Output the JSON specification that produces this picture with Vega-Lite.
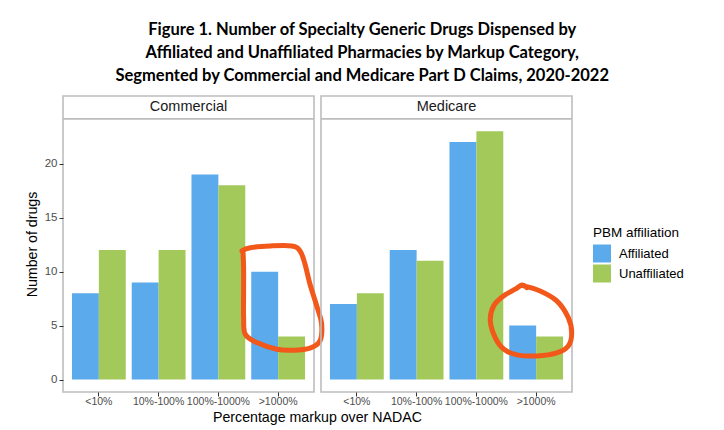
{
  "$schema": "https://vega.github.io/schema/vega-lite/v6.json",
  "background": "white",
  "padding": {"left": 24, "right": 5, "top": 21, "bottom": 5},
  "title": {
    "text": ["Figure 1. Number of Specialty Generic Drugs Dispensed by", "Affiliated and Unaffiliated Pharmacies by Markup Category,", "Segmented by Commercial and Medicare Part D Claims, 2020-2022"],
    "font": "Lato", "fontSize": 16.5, "fontWeight": "bold", "color": "#000000",
    "lineHeight": 23, "anchor": "middle", "frame": "bounds", "offset": 11, "dx": 8
  },
  "data": {"values": [
    {"kind": "bar", "claims": "Commercial", "markup": "<10%", "affiliation": "Affiliated", "count": 8},
    {"kind": "bar", "claims": "Commercial", "markup": "<10%", "affiliation": "Unaffiliated", "count": 12},
    {"kind": "bar", "claims": "Commercial", "markup": "10%-100%", "affiliation": "Affiliated", "count": 9},
    {"kind": "bar", "claims": "Commercial", "markup": "10%-100%", "affiliation": "Unaffiliated", "count": 12},
    {"kind": "bar", "claims": "Commercial", "markup": "100%-1000%", "affiliation": "Affiliated", "count": 19},
    {"kind": "bar", "claims": "Commercial", "markup": "100%-1000%", "affiliation": "Unaffiliated", "count": 18},
    {"kind": "bar", "claims": "Commercial", "markup": ">1000%", "affiliation": "Affiliated", "count": 10},
    {"kind": "bar", "claims": "Commercial", "markup": ">1000%", "affiliation": "Unaffiliated", "count": 4},
    {"kind": "bar", "claims": "Medicare", "markup": "<10%", "affiliation": "Affiliated", "count": 7},
    {"kind": "bar", "claims": "Medicare", "markup": "<10%", "affiliation": "Unaffiliated", "count": 8},
    {"kind": "bar", "claims": "Medicare", "markup": "10%-100%", "affiliation": "Affiliated", "count": 12},
    {"kind": "bar", "claims": "Medicare", "markup": "10%-100%", "affiliation": "Unaffiliated", "count": 11},
    {"kind": "bar", "claims": "Medicare", "markup": "100%-1000%", "affiliation": "Affiliated", "count": 22},
    {"kind": "bar", "claims": "Medicare", "markup": "100%-1000%", "affiliation": "Unaffiliated", "count": 23},
    {"kind": "bar", "claims": "Medicare", "markup": ">1000%", "affiliation": "Affiliated", "count": 5},
    {"kind": "bar", "claims": "Medicare", "markup": ">1000%", "affiliation": "Unaffiliated", "count": 4},
    {"kind": "circle", "claims": "Commercial", "ord": 1, "u": 2.995, "v": 11.92},
    {"kind": "circle", "claims": "Commercial", "ord": 2, "u": 3.133, "v": 12.22},
    {"kind": "circle", "claims": "Commercial", "ord": 3, "u": 3.467, "v": 12.38},
    {"kind": "circle", "claims": "Commercial", "ord": 4, "u": 3.828, "v": 12.38},
    {"kind": "circle", "claims": "Commercial", "ord": 5, "u": 3.967, "v": 11.92},
    {"kind": "circle", "claims": "Commercial", "ord": 6, "u": 4.05, "v": 10.69},
    {"kind": "circle", "claims": "Commercial", "ord": 7, "u": 4.133, "v": 8.83},
    {"kind": "circle", "claims": "Commercial", "ord": 8, "u": 4.255, "v": 6.67},
    {"kind": "circle", "claims": "Commercial", "ord": 9, "u": 4.328, "v": 5.13},
    {"kind": "circle", "claims": "Commercial", "ord": 10, "u": 4.3, "v": 3.58},
    {"kind": "circle", "claims": "Commercial", "ord": 11, "u": 4.133, "v": 2.91},
    {"kind": "circle", "claims": "Commercial", "ord": 12, "u": 3.855, "v": 2.72},
    {"kind": "circle", "claims": "Commercial", "ord": 13, "u": 3.578, "v": 2.81},
    {"kind": "circle", "claims": "Commercial", "ord": 14, "u": 3.245, "v": 3.43},
    {"kind": "circle", "claims": "Commercial", "ord": 15, "u": 3.05, "v": 4.2},
    {"kind": "circle", "claims": "Commercial", "ord": 16, "u": 3.022, "v": 5.74},
    {"kind": "circle", "claims": "Commercial", "ord": 17, "u": 3.022, "v": 8.21},
    {"kind": "circle", "claims": "Commercial", "ord": 18, "u": 3.022, "v": 10.37},
    {"kind": "circle", "claims": "Commercial", "ord": 19, "u": 3.012, "v": 11.76},
    {"kind": "circle", "claims": "Medicare", "ord": 1, "u": 3.388, "v": 8.68},
    {"kind": "circle", "claims": "Medicare", "ord": 2, "u": 3.667, "v": 8.21},
    {"kind": "circle", "claims": "Medicare", "ord": 3, "u": 3.945, "v": 7.29},
    {"kind": "circle", "claims": "Medicare", "ord": 4, "u": 4.138, "v": 5.74},
    {"kind": "circle", "claims": "Medicare", "ord": 5, "u": 4.195, "v": 4.32},
    {"kind": "circle", "claims": "Medicare", "ord": 6, "u": 4.138, "v": 3.12},
    {"kind": "circle", "claims": "Medicare", "ord": 7, "u": 3.945, "v": 2.47},
    {"kind": "circle", "claims": "Medicare", "ord": 8, "u": 3.612, "v": 2.19},
    {"kind": "circle", "claims": "Medicare", "ord": 9, "u": 3.278, "v": 2.29},
    {"kind": "circle", "claims": "Medicare", "ord": 10, "u": 3.055, "v": 2.84},
    {"kind": "circle", "claims": "Medicare", "ord": 11, "u": 2.917, "v": 3.86},
    {"kind": "circle", "claims": "Medicare", "ord": 12, "u": 2.833, "v": 5.44},
    {"kind": "circle", "claims": "Medicare", "ord": 13, "u": 2.888, "v": 6.82},
    {"kind": "circle", "claims": "Medicare", "ord": 14, "u": 3.055, "v": 7.75},
    {"kind": "circle", "claims": "Medicare", "ord": 15, "u": 3.25, "v": 8.37},
    {"kind": "circle", "claims": "Medicare", "ord": 16, "u": 3.362, "v": 8.77},
    {"kind": "circle", "claims": "Medicare", "ord": 17, "u": 3.445, "v": 8.52}
  ]},
  "vconcat": [
    {
      "title": {
        "text": "Percentage markup over NADAC", "orient": "bottom", "anchor": "middle", "frame": "bounds",
        "font": "Liberation Sans", "fontSize": 14.2, "fontWeight": "normal", "color": "#000000", "offset": 4, "dx": 14
      },
      "spacing": 7,
      "bounds": "flush",
      "resolve": {"scale": {"color": "shared"}, "legend": {"color": "shared"}},
      "hconcat": [
        {
          "width": 251, "height": 296,
          "title": {"text": "Commercial", "orient": "top", "anchor": "middle", "offset": -18, "font": "Liberation Sans", "fontSize": 14.5, "fontWeight": "normal", "color": "#1a1a1a"},
          "transform": [{"filter": "datum.claims === 'Commercial'"}],
          "layer": [
            {
              "transform": [{"filter": "datum.kind === 'bar'"}],
              "mark": {"type": "bar"},
              "encoding": {
                "x": {
                  "field": "markup", "type": "nominal",
                  "sort": ["<10%", "10%-100%", "100%-1000%", ">1000%"],
                  "scale": {"paddingInner": 0.1, "paddingOuter": 0.15},
                  "axis": {
                    "title": null, "labelAngle": 0, "domain": false, "grid": false,
                    "tickColor": "#333333", "tickSize": 4, "tickWidth": 1,
                    "labelFont": "Liberation Sans", "labelFontSize": 10.5, "labelColor": "#4d4d4d",
                    "labelPadding": 0, "labelOverlap": false, "labelBound": false
                  }
                },
                "xOffset": {
                  "field": "affiliation", "type": "nominal", "sort": ["Affiliated", "Unaffiliated"],
                  "scale": {"paddingInner": 0, "paddingOuter": 0}
                },
                "y": {
                  "field": "count", "type": "quantitative",
                  "scale": {"domain": [-1.15, 26.27], "nice": false, "zero": false},
                  "axis": {
                    "title": "Number of drugs", "values": [0, 5, 10, 15, 20],
                    "domain": false, "grid": false,
                    "tickColor": "#333333", "tickSize": 4, "tickWidth": 1,
                    "labelFont": "Liberation Sans", "labelFontSize": 11.5, "labelColor": "#4d4d4d", "labelPadding": 2,
                    "titleFont": "Liberation Sans", "titleFontSize": 14.2, "titleFontWeight": "normal", "titleColor": "#000000",
                    "titlePadding": 5
                  }
                },
                "y2": {"datum": 0},
                "color": {
                  "field": "affiliation", "type": "nominal",
                  "scale": {"domain": ["Affiliated", "Unaffiliated"], "range": ["#5aaaec", "#a2c95a"]},
                  "legend": {
                    "title": "PBM affiliation",
                    "orient": "none", "legendX": 530, "legendY": 130,
                    "titleFont": "Liberation Sans", "titleFontSize": 13.5, "titleFontWeight": "normal", "titleColor": "#000000",
                    "labelFont": "Liberation Sans", "labelFontSize": 13, "labelColor": "#000000",
                    "symbolType": "square", "symbolSize": 324, "symbolStrokeWidth": 0, "symbolOpacity": 1,
                    "rowPadding": 2, "titlePadding": 5, "labelOffset": 8
                  }
                }
              }
            },
            {
              "transform": [{"filter": "datum.kind === 'bar' && datum.markup === '<10%' && datum.affiliation === 'Affiliated'"}],
              "mark": {"type": "rule", "color": "#bdbdbd", "strokeWidth": 1.6},
              "encoding": {"y": {"datum": 24.15}}
            },
            {
              "transform": [{"filter": "datum.kind === 'circle'"}],
              "mark": {"type": "line", "color": "#f2581a", "strokeWidth": 5, "interpolate": "cardinal", "strokeCap": "round", "clip": false},
              "encoding": {
                "x": {"field": "u", "type": "quantitative", "scale": {"domain": [0, 4.2], "nice": false, "zero": false}, "axis": null},
                "y": {"field": "v", "type": "quantitative"},
                "order": {"field": "ord", "type": "quantitative"}
              }
            }
          ],
          "resolve": {"scale": {"x": "independent"}, "axis": {"x": "independent"}}
        },
        {
          "width": 251, "height": 296,
          "title": {"text": "Medicare", "orient": "top", "anchor": "middle", "offset": -18, "font": "Liberation Sans", "fontSize": 14.5, "fontWeight": "normal", "color": "#1a1a1a"},
          "transform": [{"filter": "datum.claims === 'Medicare'"}],
          "layer": [
            {
              "transform": [{"filter": "datum.kind === 'bar'"}],
              "mark": {"type": "bar"},
              "encoding": {
                "x": {
                  "field": "markup", "type": "nominal",
                  "sort": ["<10%", "10%-100%", "100%-1000%", ">1000%"],
                  "scale": {"paddingInner": 0.1, "paddingOuter": 0.15},
                  "axis": {
                    "title": null, "labelAngle": 0, "domain": false, "grid": false,
                    "tickColor": "#333333", "tickSize": 4, "tickWidth": 1,
                    "labelFont": "Liberation Sans", "labelFontSize": 10.5, "labelColor": "#4d4d4d",
                    "labelPadding": 0, "labelOverlap": false, "labelBound": false
                  }
                },
                "xOffset": {
                  "field": "affiliation", "type": "nominal", "sort": ["Affiliated", "Unaffiliated"],
                  "scale": {"paddingInner": 0, "paddingOuter": 0}
                },
                "y": {
                  "field": "count", "type": "quantitative",
                  "scale": {"domain": [-1.15, 26.27], "nice": false, "zero": false},
                  "axis": null
                },
                "y2": {"datum": 0},
                "color": {
                  "field": "affiliation", "type": "nominal",
                  "scale": {"domain": ["Affiliated", "Unaffiliated"], "range": ["#5aaaec", "#a2c95a"]},
                  "legend": {
                    "title": "PBM affiliation",
                    "orient": "none", "legendX": 530, "legendY": 130,
                    "titleFont": "Liberation Sans", "titleFontSize": 13.5, "titleFontWeight": "normal", "titleColor": "#000000",
                    "labelFont": "Liberation Sans", "labelFontSize": 13, "labelColor": "#000000",
                    "symbolType": "square", "symbolSize": 324, "symbolStrokeWidth": 0, "symbolOpacity": 1,
                    "rowPadding": 2, "titlePadding": 5, "labelOffset": 8
                  }
                }
              }
            },
            {
              "transform": [{"filter": "datum.kind === 'bar' && datum.markup === '<10%' && datum.affiliation === 'Affiliated'"}],
              "mark": {"type": "rule", "color": "#bdbdbd", "strokeWidth": 1.6},
              "encoding": {"y": {"datum": 24.15}}
            },
            {
              "transform": [{"filter": "datum.kind === 'circle'"}],
              "mark": {"type": "line", "color": "#f2581a", "strokeWidth": 5, "interpolate": "cardinal", "strokeCap": "round", "clip": false},
              "encoding": {
                "x": {"field": "u", "type": "quantitative", "scale": {"domain": [0, 4.2], "nice": false, "zero": false}, "axis": null},
                "y": {"field": "v", "type": "quantitative"},
                "order": {"field": "ord", "type": "quantitative"}
              }
            }
          ],
          "resolve": {"scale": {"x": "independent"}, "axis": {"x": "independent"}}
        }
      ]
    }
  ],
  "config": {
    "view": {"stroke": "#bdbdbd", "strokeWidth": 1.6},
    "bar": {"strokeWidth": 0}
  }
}
